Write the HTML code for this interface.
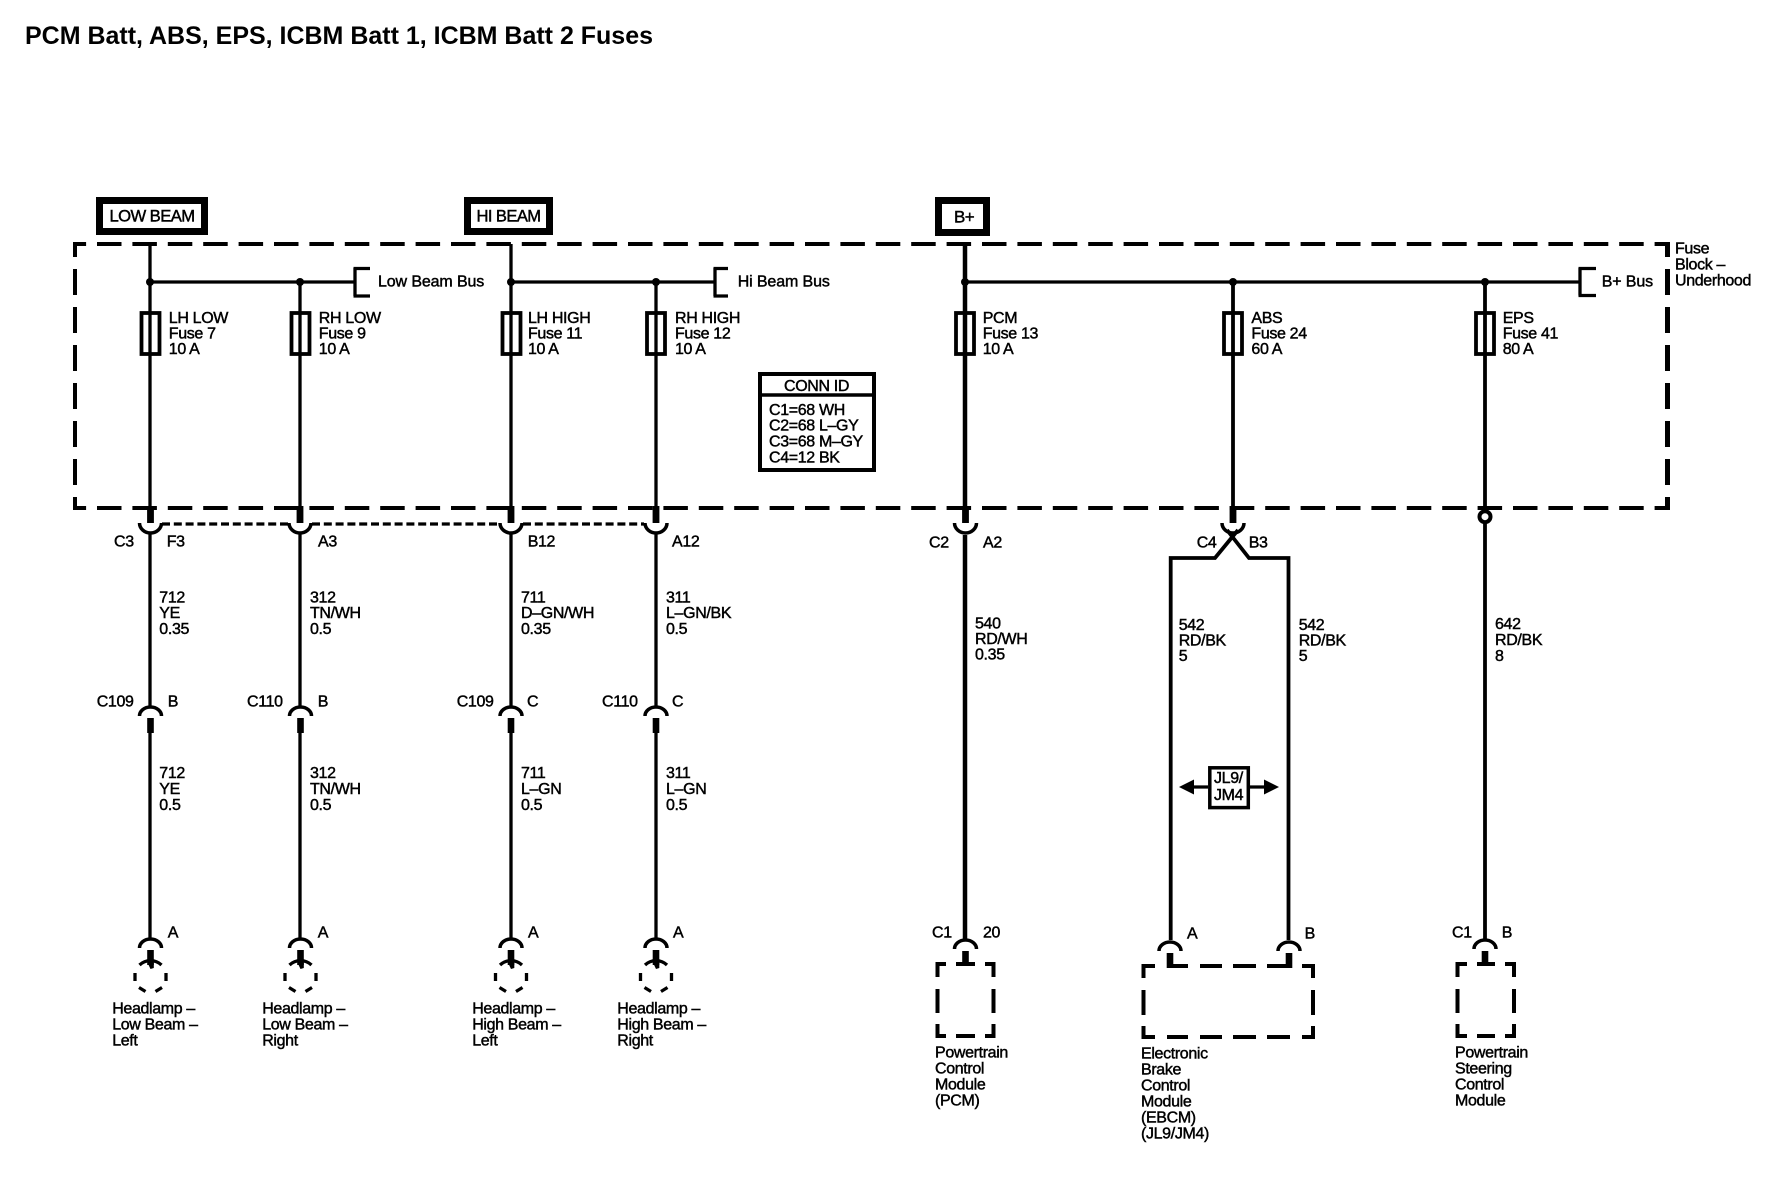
<!DOCTYPE html>
<html>
<head>
<meta charset="utf-8">
<title>PCM Batt, ABS, EPS, ICBM Batt 1, ICBM Batt 2 Fuses</title>
<style>
html,body{margin:0;padding:0;background:#fff}
svg{display:block}
text{font-family:"Liberation Sans",sans-serif;font-size:16px;fill:#000;stroke:#000;stroke-width:.45px;letter-spacing:-.35px}
.t{font-size:25px;font-weight:bold;stroke-width:0;letter-spacing:0}
.h{font-size:17px;letter-spacing:-.6px}
.b{letter-spacing:-.12px}
.w{fill:none;stroke:#000;stroke-width:3.3}
.k{fill:none;stroke:#000;stroke-width:4.5}
.d{fill:none;stroke:#000;stroke-width:4}
</style>
</head>
<body>
<svg xmlns="http://www.w3.org/2000/svg" width="1776" height="1184" viewBox="0 0 1776 1184">
<defs>
<g id="cup"><path d="M-11 523A11 10 0 0 0 11 523" fill="none" stroke="#000" stroke-width="3.5"/><rect x="-3.4" y="506" width="6.8" height="17"/></g>
<g id="cap"><path d="M-11 16A11 9 0 0 1 11 16" fill="none" stroke="#000" stroke-width="3.5"/><rect x="-3.3" y="18" width="6.6" height="15"/></g>
<g id="lamp"><path d="M-11 -12A16 16 0 0 1 11 -12M-15.500 -4V4M15.500 -4V4M-11.500 10.500L-5 14.500M11.500 10.500L5 14.500" fill="none" stroke="#000" stroke-width="3.300"/><path d="M-3.3 -15H3.3V-9L0 -8Z"/></g>
<g id="fuse"><rect x="-9" y="313" width="18" height="41" fill="none" stroke="#000" stroke-width="3.8"/></g>
</defs>
<rect width="1776" height="1184" fill="#fff"/>

<text class="t" x="25" y="44" textLength="628" lengthAdjust="spacingAndGlyphs">PCM Batt, ABS, EPS, ICBM Batt 1, ICBM Batt 2 Fuses</text>

<!-- source boxes -->
<rect x="99.5" y="200.5" width="105" height="31" fill="none" stroke="#000" stroke-width="7"/>
<text class="h" x="109.5" y="221.7" textLength="85" lengthAdjust="spacingAndGlyphs">LOW BEAM</text>
<rect x="467.5" y="200.5" width="82" height="31" fill="none" stroke="#000" stroke-width="7"/>
<text class="h" x="476.5" y="221.7" textLength="64" lengthAdjust="spacingAndGlyphs">HI BEAM</text>
<rect x="938.5" y="200.5" width="48" height="32" fill="none" stroke="#000" stroke-width="7"/>
<text class="h" x="954" y="222.7">B+</text>

<!-- fuse block dashed outline -->
<path class="d" d="M75 244H1669" stroke-dasharray="24.5 10.9" stroke-dashoffset="13.4"/>
<path class="d" d="M75 508H1669" stroke-dasharray="24.5 10.9" stroke-dashoffset="13.4"/>
<path class="d" d="M75 242V510" stroke-dasharray="26 12" stroke-dashoffset="11"/>
<path class="d" d="M1667.5 242V510" style="stroke-width:5" stroke-dasharray="26 12" stroke-dashoffset="11"/>

<!-- buses -->
<path class="w" d="M150 282H355M355 268V296M353.5 268.5H370M353.5 296H370"/>
<path class="w" d="M511 282H715M715 268V296M713.500 268.500H728M713.500 296H728"/>
<path class="w" d="M965 282H1580M1580 268V295.500M1578.500 268.500H1596M1578.500 295.500H1596"/>
<g>
<circle cx="150" cy="282" r="4"/><circle cx="300" cy="282" r="4"/><circle cx="511" cy="282" r="4"/><circle cx="656" cy="282" r="4"/><circle cx="965" cy="282" r="4"/><circle cx="1233" cy="282" r="4"/><circle cx="1485" cy="282" r="4"/>
</g>

<!-- thin headlamp wires -->
<path class="w" d="M150 244V510M150 533V708M150 733V938"/>
<path class="w" d="M300 282V510M300 533V708M300 733V938"/>
<path class="w" d="M511 244V510M511 533V708M511 733V938"/>
<path class="w" d="M656 282V510M656 533V708M656 733V938"/>
<path class="k" d="M965 244V510M965 535V940"/>
<path class="w" style="stroke-width:3.8" d="M1233 282V510"/>
<path class="w" style="stroke-width:3.8" d="M1485 282V512M1485 522V940"/>
<path class="w" style="stroke-width:3.8" d="M1238 530L1215 558H1170.700V940"/>
<path class="w" style="stroke-width:3.8" d="M1227 530L1249 558H1288.500V940"/>

<!-- dashed shared connector line -->
<path class="w" d="M162 524H289" stroke-dasharray="8 3.800"/>
<path class="w" d="M312 524H499" stroke-dasharray="8 3.800"/>
<path class="w" d="M523 524H644" stroke-dasharray="8 3.800"/>

<!-- fuses -->
<use href="#fuse" x="150.500"/><use href="#fuse" x="300.500"/><use href="#fuse" x="511.500"/><use href="#fuse" x="656"/>
<use href="#fuse" x="965"/><use href="#fuse" x="1233"/><use href="#fuse" x="1485"/>

<!-- C3 / C2 / C4 connector cups -->
<use href="#cup" x="150.500"/><use href="#cup" x="300"/><use href="#cup" x="511"/><use href="#cup" x="656"/><use href="#cup" x="965.500"/><use href="#cup" x="1233"/>
<circle cx="1485" cy="516.700" r="5.500" fill="#fff" stroke="#000" stroke-width="4"/>

<!-- C109/C110 -->
<use href="#cap" x="150.500" y="700"/><use href="#cap" x="300.500" y="700"/><use href="#cap" x="511" y="700"/><use href="#cap" x="656" y="700"/>

<!-- load connectors -->
<use href="#cap" x="150.500" y="932"/><use href="#cap" x="300.500" y="932"/><use href="#cap" x="511" y="932"/><use href="#cap" x="656" y="932"/>
<use href="#lamp" x="150.500" y="977"/><use href="#lamp" x="300.500" y="977"/><use href="#lamp" x="511" y="977"/><use href="#lamp" x="656" y="977"/>
<use href="#cap" x="965.500" y="933"/><use href="#cap" x="1170" y="935"/><use href="#cap" x="1289" y="935"/><use href="#cap" x="1485" y="933"/>

<!-- modules -->
<path class="d" d="M946 964H937.500V977M956 964H975M985 964H993.500V977M937.500 989V1013M993.500 989V1013M937.500 1024V1036H946M956 1036H975M985 1036H993.500V1024"/>
<path class="d" d="M1155 966H1143.500V978M1167 966H1188M1200 966H1222M1233 966H1256M1267 966H1290M1302 966H1313V978M1143.500 990V1015M1313 990V1015M1143.500 1026V1037H1155M1167 1037H1188M1200 1037H1222M1233 1037H1256M1267 1037H1290M1302 1037H1313V1026"/>
<path class="d" d="M1467 964H1457.500V977M1477 964H1495M1505 964H1514V977M1457.500 989V1013M1514 989V1013M1457.500 1024V1036H1467M1477 1036H1495M1505 1036H1514V1024"/>

<!-- option box -->
<path class="w" d="M1190 787H1208M1250 787H1268"/>
<path d="M1179 787L1194 779.500V794.500ZM1279 787L1264 779.500V794.500Z"/>
<rect x="1209.800" y="767.800" width="38.500" height="39.800" fill="#fff" stroke="#000" stroke-width="3.500"/>
<text x="1214" y="783">JL9/</text>
<text x="1214" y="800">JM4</text>

<!-- conn id -->
<rect x="760" y="374" width="114" height="96" fill="#fff" stroke="#000" stroke-width="4"/>
<path d="M760 395H874" stroke="#000" stroke-width="3.500"/>
<text x="784" y="391">CONN ID</text>
<text x="769" y="415">C1=68 WH</text>
<text x="769" y="430.700">C2=68 L–GY</text>
<text x="769" y="446.700">C3=68 M–GY</text>
<text x="769" y="462.700">C4=12 BK</text>

<!-- bus labels -->
<text class="b" x="378" y="286.700">Low Beam Bus</text>
<text class="b" x="737.700" y="286.700">Hi Beam Bus</text>
<text class="b" x="1601.700" y="286.700">B+ Bus</text>
<text x="1675" y="253.300">Fuse</text>
<text x="1675" y="269.300">Block –</text>
<text x="1675" y="285.700">Underhood</text>

<!-- fuse labels -->
<text x="168.800" y="323">LH LOW</text><text x="168.800" y="338.500">Fuse 7</text><text x="168.800" y="354">10 A</text>
<text x="318.800" y="323">RH LOW</text><text x="318.800" y="338.500">Fuse 9</text><text x="318.800" y="354">10 A</text>
<text x="528" y="323">LH HIGH</text><text x="528" y="338.500">Fuse 11</text><text x="528" y="354">10 A</text>
<text x="675" y="323">RH HIGH</text><text x="675" y="338.500">Fuse 12</text><text x="675" y="354">10 A</text>
<text x="982.700" y="323">PCM</text><text x="982.700" y="338.500">Fuse 13</text><text x="982.700" y="354">10 A</text>
<text x="1251.400" y="323">ABS</text><text x="1251.400" y="338.500">Fuse 24</text><text x="1251.400" y="354">60 A</text>
<text x="1502.700" y="323">EPS</text><text x="1502.700" y="338.500">Fuse 41</text><text x="1502.700" y="354">80 A</text>

<!-- connector labels -->
<text x="114" y="546.700">C3</text><text x="166.700" y="546.700">F3</text><text x="318" y="546.700">A3</text>
<text x="527.700" y="546.700">B12</text><text x="672" y="546.700">A12</text>
<text x="929" y="547.700">C2</text><text x="983" y="547.700">A2</text>
<text x="1196.700" y="547.700">C4</text><text x="1248.700" y="547.700">B3</text>

<!-- wire labels upper -->
<text x="159.300" y="602.700">712</text><text x="159.300" y="618">YE</text><text x="159.300" y="634">0.35</text>
<text x="310" y="602.700">312</text><text x="310" y="618">TN/WH</text><text x="310" y="634">0.5</text>
<text x="521" y="602.700">711</text><text x="521" y="618">D–GN/WH</text><text x="521" y="634">0.35</text>
<text x="666" y="602.700">311</text><text x="666" y="618">L–GN/BK</text><text x="666" y="634">0.5</text>
<text x="975" y="628.500">540</text><text x="975" y="644">RD/WH</text><text x="975" y="659.500">0.35</text>
<text x="1178.700" y="630">542</text><text x="1178.700" y="645.500">RD/BK</text><text x="1178.700" y="661">5</text>
<text x="1298.700" y="630">542</text><text x="1298.700" y="645.500">RD/BK</text><text x="1298.700" y="661">5</text>
<text x="1495" y="629">642</text><text x="1495" y="645">RD/BK</text><text x="1495" y="661">8</text>

<!-- C109/C110 labels -->
<text x="96.700" y="706.700">C109</text><text x="167.700" y="706.700">B</text>
<text x="247" y="706.700">C110</text><text x="317.700" y="706.700">B</text>
<text x="456.700" y="706.700">C109</text><text x="527" y="706.700">C</text>
<text x="602" y="706.700">C110</text><text x="672" y="706.700">C</text>

<!-- wire labels lower -->
<text x="159.300" y="778">712</text><text x="159.300" y="794">YE</text><text x="159.300" y="810">0.5</text>
<text x="310" y="778">312</text><text x="310" y="794">TN/WH</text><text x="310" y="810">0.5</text>
<text x="521" y="778">711</text><text x="521" y="794">L–GN</text><text x="521" y="810">0.5</text>
<text x="666" y="778">311</text><text x="666" y="794">L–GN</text><text x="666" y="810">0.5</text>

<!-- load pin labels -->
<text x="167.700" y="937.300">A</text><text x="317.700" y="937.300">A</text><text x="528" y="937.300">A</text><text x="673" y="937.300">A</text>
<text x="932" y="937.300">C1</text><text x="983" y="937.300">20</text>
<text x="1187" y="938.300">A</text><text x="1304.600" y="938.300">B</text>
<text x="1452" y="937.300">C1</text><text x="1501.700" y="937.300">B</text>

<!-- load names -->
<text x="112.200" y="1013.300">Headlamp –</text><text x="112.200" y="1029.300">Low Beam –</text><text x="112.200" y="1045.300">Left</text>
<text x="262.200" y="1013.300">Headlamp –</text><text x="262.200" y="1029.300">Low Beam –</text><text x="262.200" y="1045.300">Right</text>
<text x="472.200" y="1013.300">Headlamp –</text><text x="472.200" y="1029.300">High Beam –</text><text x="472.200" y="1045.300">Left</text>
<text x="617.300" y="1013.300">Headlamp –</text><text x="617.300" y="1029.300">High Beam –</text><text x="617.300" y="1045.300">Right</text>

<text x="935" y="1057.500">Powertrain</text><text x="935" y="1073.500">Control</text><text x="935" y="1089.500">Module</text><text x="935" y="1105.500">(PCM)</text>
<text x="1141" y="1058.500">Electronic</text><text x="1141" y="1074.500">Brake</text><text x="1141" y="1090.500">Control</text><text x="1141" y="1106.500">Module</text><text x="1141" y="1122.500">(EBCM)</text><text x="1141" y="1138.500">(JL9/JM4)</text>
<text x="1455" y="1057.500">Powertrain</text><text x="1455" y="1073.500">Steering</text><text x="1455" y="1089.500">Control</text><text x="1455" y="1105.500">Module</text>
</svg>
</body>
</html>
